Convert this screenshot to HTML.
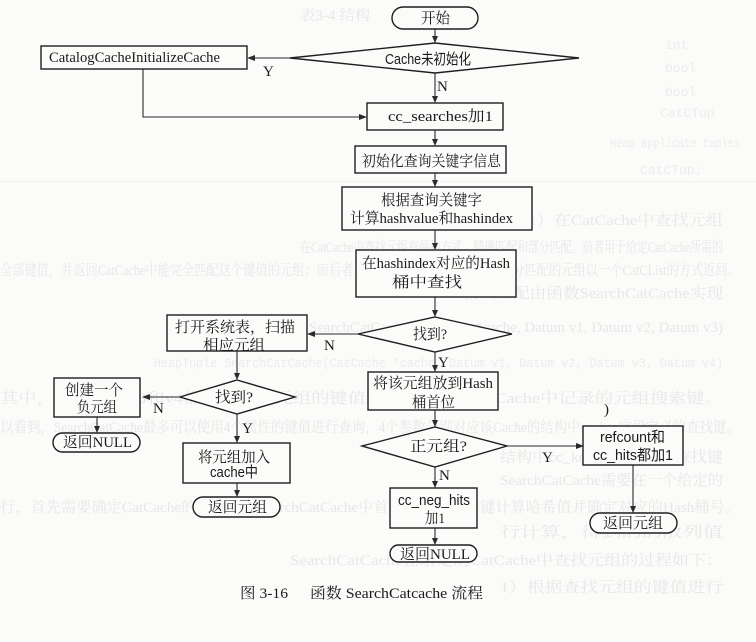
<!DOCTYPE html>
<html><head><meta charset="utf-8">
<style>
html,body{margin:0;padding:0;background:#fbfbfa;}
svg{display:block;}
.t{font-family:"Liberation Serif","Noto Serif CJK SC",serif;fill:#1a1a1a;font-size:15px;}
.s{font-family:"Liberation Sans","Noto Sans CJK SC",sans-serif;fill:#1a1a1a;font-size:15px;}
.b{font-family:"Liberation Serif","Noto Serif CJK SC",serif;fill:#e7e7e7;font-size:15px;}
.m{font-family:"Liberation Mono","Noto Sans CJK SC",monospace;fill:#ececec;font-size:13px;}
</style></head>
<body>
<svg width="756" height="642" viewBox="0 0 756 642" xmlns="http://www.w3.org/2000/svg">
<rect width="756" height="642" fill="#fbfbfa"/>
<!-- faint bleed-through -->
<g>
<text class="m" x="665" y="49">int</text>
<text class="m" x="665" y="72">bool</text>
<text class="m" x="665" y="96">bool</text>
<text class="m" x="660" y="117">CatCTup</text>
<text class="m" x="610" y="147" textLength="130" lengthAdjust="spacingAndGlyphs">Heap applicate tuples</text>
<text class="m" x="640" y="174">CatCTup;</text>
<rect x="0" y="181" width="756" height="1" fill="#f0f0f0"/>
<text class="b" x="511" y="225" textLength="212" lengthAdjust="spacingAndGlyphs">（1）在CatCache中查找元组</text>
<text class="b" x="300" y="252" textLength="423" lengthAdjust="spacingAndGlyphs">在CatCache中查找元组有两种方式，精确匹配和部分匹配。前者用于给定CatCache所需的</text>
<text class="b" x="0" y="275" textLength="740" lengthAdjust="spacingAndGlyphs">全部键值，并返回CatCache中能完全匹配这个键值的元组；而后者只需要给出部分键值，并将部分匹配的元组以一个CatCList的方式返回。</text>
<text class="b" x="463" y="298" textLength="260" lengthAdjust="spacingAndGlyphs">精确匹配由函数SearchCatCache实现</text>
<text class="b" x="309" y="332" textLength="414" lengthAdjust="spacingAndGlyphs">SearchCatCache(CatCache *cache, Datum v1, Datum v2, Datum v3)</text>
<text class="m" x="154" y="367" textLength="569" lengthAdjust="spacingAndGlyphs">HeapTuple SearchCatCache(CatCache *cache, Datum v1, Datum v2, Datum v3, Datum v4)</text>
<text class="b" x="0" y="403" textLength="723" lengthAdjust="spacingAndGlyphs">其中，v1、v2、v3和v4都用于查找元组的键值，分别对应于该Cache中记录的元组搜索键。</text>
<text class="b" x="0" y="432" textLength="740" lengthAdjust="spacingAndGlyphs">以看到，SearchCatCache最多可以使用4个属性的键值进行查询，4个参数分别对应该Cache的结构中cc_key字段定义的查找键。</text>
<text class="b" x="500" y="462" textLength="223" lengthAdjust="spacingAndGlyphs">结构中cc_key字段定义的查找键</text>
<text class="b" x="500" y="485" textLength="223" lengthAdjust="spacingAndGlyphs">SearchCatCache需要在一个给定的</text>
<text class="b" x="0" y="512" textLength="740" lengthAdjust="spacingAndGlyphs">行，首先需要确定CatCache的散列值，SearchCatCache中首先对所有搜索键计算哈希值并确定对应的Hash桶号。</text>
<text class="b" x="500" y="537" textLength="223" lengthAdjust="spacingAndGlyphs">行计算，得到的的散列值</text>
<text class="b" x="290" y="565" textLength="433" lengthAdjust="spacingAndGlyphs">SearchCatCache在给定的CatCache中查找元组的过程如下：</text>
<text class="b" x="500" y="592" textLength="223" lengthAdjust="spacingAndGlyphs">1）根据查找元组的键值进行</text>
<text class="b" x="300" y="20" textLength="70" lengthAdjust="spacingAndGlyphs">表3-4 结构</text>
</g>

<g stroke="#1e1e1e" stroke-width="1.4" fill="#fbfbfa">
<rect x="392" y="7" width="86" height="22" rx="11" ry="11"/>
<polygon points="435,43 579,58 435,73 290,58"/>
<rect x="41" y="46" width="206" height="23"/>
<rect x="367" y="103" width="136" height="27"/>
<rect x="355" y="146" width="151" height="27"/>
<rect x="342" y="187" width="190" height="43"/>
<rect x="356" y="250" width="160" height="47"/>
<polygon points="435,317 512,334 435,352 358,334"/>
<rect x="167" y="315" width="140" height="36"/>
<rect x="368" y="372" width="130" height="38"/>
<polygon points="237,380 295,397 237,414 180,397"/>
<rect x="54" y="378" width="86" height="39"/>
<rect x="53" y="433" width="87" height="19" rx="9.5" ry="9.5"/>
<rect x="183" y="443" width="107" height="40"/>
<rect x="193" y="497" width="87" height="20" rx="10" ry="10"/>
<polygon points="435,427 507,446 435,467 362,446"/>
<rect x="583" y="426" width="100" height="39"/>
<rect x="590" y="513" width="87" height="20" rx="10" ry="10"/>
<rect x="390" y="488" width="87" height="40"/>
<rect x="390" y="545" width="87" height="17" rx="8.5" ry="8.5"/>
</g>

<!-- connectors -->
<g stroke="#2a2a2a" stroke-width="1.1" fill="none">
<path d="M435,29 V37"/>
<path d="M290,58 H255"/>
<path d="M435,73 V97"/>
<path d="M143,69 V117 H360"/>
<path d="M435,130 V140"/>
<path d="M435,173 V181"/>
<path d="M435,230 V244"/>
<path d="M435,297 V311"/>
<path d="M358,334 H315"/>
<path d="M435,352 V366"/>
<path d="M237,351 V374"/>
<path d="M180,397 H150"/>
<path d="M97,417 V427"/>
<path d="M237,414 V437"/>
<path d="M237,483 V491"/>
<path d="M435,410 V421"/>
<path d="M507,446 H577"/>
<path d="M633,465 V507"/>
<path d="M435,467 V482"/>
<path d="M435,528 V539"/>
</g>
<g fill="#2a2a2a">
<polygon points="432,36 438,36 435,43"/>
<polygon points="255,55 255,61 247,58"/>
<polygon points="432,96 438,96 435,103"/>
<polygon points="359,114 359,120 367,117"/>
<polygon points="432,139 438,139 435,146"/>
<polygon points="432,180 438,180 435,187"/>
<polygon points="432,243 438,243 435,250"/>
<polygon points="432,310 438,310 435,317"/>
<polygon points="315,331 315,337 307,334"/>
<polygon points="432,365 438,365 435,372"/>
<polygon points="234,373 240,373 237,380"/>
<polygon points="150,394 150,400 142,397"/>
<polygon points="94,426 100,426 97,433"/>
<polygon points="234,436 240,436 237,443"/>
<polygon points="234,490 240,490 237,497"/>
<polygon points="432,420 438,420 435,427"/>
<polygon points="576,443 576,449 584,446"/>
<polygon points="630,506 636,506 633,513"/>
<polygon points="432,481 438,481 435,488"/>
<polygon points="432,538 438,538 435,545"/>
</g>

<!-- node texts -->
<text class="t" x="421" y="23" textLength="29" lengthAdjust="spacingAndGlyphs">开始</text>
<text class="s" x="385" y="64" textLength="86" lengthAdjust="spacingAndGlyphs">Cache未初始化</text>
<text class="t" x="49" y="62" textLength="171" lengthAdjust="spacingAndGlyphs">CatalogCacheInitializeCache</text>
<text class="t" x="388" y="121" textLength="105" lengthAdjust="spacingAndGlyphs">cc_searches加1</text>
<text class="t" x="362" y="166" textLength="139" lengthAdjust="spacingAndGlyphs">初始化查询关键字信息</text>
<text class="t" x="381" y="205" textLength="101" lengthAdjust="spacingAndGlyphs">根据查询关键字</text>
<text class="t" x="350" y="223" textLength="163" lengthAdjust="spacingAndGlyphs">计算hashvalue和hashindex</text>
<text class="t" x="362" y="268" textLength="148" lengthAdjust="spacingAndGlyphs">在hashindex对应的Hash</text>
<text class="t" x="392" y="287" textLength="70" lengthAdjust="spacingAndGlyphs">桶中查找</text>
<text class="t" x="413" y="339" textLength="34" lengthAdjust="spacingAndGlyphs">找到?</text>
<text class="t" x="175" y="332" textLength="120" lengthAdjust="spacingAndGlyphs">打开系统表，扫描</text>
<text class="t" x="203" y="350" textLength="62" lengthAdjust="spacingAndGlyphs">相应元组</text>
<text class="t" x="373" y="388" textLength="120" lengthAdjust="spacingAndGlyphs">将该元组放到Hash</text>
<text class="t" x="412" y="407" textLength="43" lengthAdjust="spacingAndGlyphs">桶首位</text>
<text class="t" x="215" y="402" textLength="38" lengthAdjust="spacingAndGlyphs">找到?</text>
<text class="t" x="65" y="395" textLength="58" lengthAdjust="spacingAndGlyphs">创建一个</text>
<text class="t" x="77" y="412" textLength="40" lengthAdjust="spacingAndGlyphs">负元组</text>
<text class="t" x="63" y="447" textLength="69" lengthAdjust="spacingAndGlyphs">返回NULL</text>
<text class="t" x="198" y="462" textLength="72" lengthAdjust="spacingAndGlyphs">将元组加入</text>
<text class="s" x="210" y="477" textLength="48" lengthAdjust="spacingAndGlyphs">cache中</text>
<text class="t" x="208" y="512" textLength="59" lengthAdjust="spacingAndGlyphs">返回元组</text>
<text class="t" x="410" y="451" textLength="57" lengthAdjust="spacingAndGlyphs">正元组?</text>
<text class="s" x="600" y="442" textLength="65" lengthAdjust="spacingAndGlyphs">refcount和</text>
<text class="s" x="593" y="460" textLength="80" lengthAdjust="spacingAndGlyphs">cc_hits都加1</text>
<text class="t" x="603" y="528" textLength="60" lengthAdjust="spacingAndGlyphs">返回元组</text>
<text class="s" x="398" y="505" textLength="72" lengthAdjust="spacingAndGlyphs">cc_neg_hits</text>
<text class="t" x="425" y="523" textLength="20" lengthAdjust="spacingAndGlyphs">加1</text>
<text class="t" x="400" y="559" textLength="70" lengthAdjust="spacingAndGlyphs">返回NULL</text>

<!-- edge labels -->
<text class="t" x="263" y="76" font-size="14">Y</text>
<text class="t" x="437" y="91" font-size="14">N</text>
<text class="t" x="324" y="350" font-size="14">N</text>
<text class="t" x="438" y="367" font-size="14">Y</text>
<text class="t" x="153" y="413" font-size="14">N</text>
<text class="t" x="242" y="433" font-size="14">Y</text>
<text class="t" x="542" y="462" font-size="14">Y</text>
<text class="t" x="439" y="480" font-size="14">N</text>
<text class="t" x="604" y="414" font-size="11">)</text>

<!-- caption -->
<text class="t" x="240" y="598" font-size="16" textLength="48" lengthAdjust="spacingAndGlyphs">图 3-16</text>
<text class="t" x="310" y="598" font-size="16" textLength="173" lengthAdjust="spacingAndGlyphs">函数 SearchCatcache 流程</text>
</svg>
</body></html>
